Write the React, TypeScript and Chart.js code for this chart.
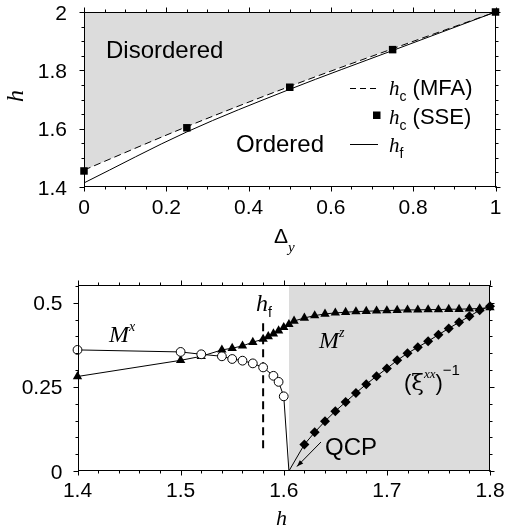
import React, { useEffect, useRef } from "react";
import { Chart, registerables } from "chart.js";
Chart.register(...registerables);

const W = 506;
const H = 529;

// ---------- Top panel data ----------
const DELTA_Y = [0, 0.25, 0.5, 0.75, 1];
const HC_MFA = [1.458, 1.607, 1.745, 1.874, 2.0];
const HC_SSE = [1.455, 1.603, 1.742, 1.871, 2.0];
const HF_LINE = [1.414, 1.589, 1.735, 1.868, 2.0];
const TOP_X_TICKS = [0, 0.2, 0.4, 0.6, 0.8, 1];
const TOP_X_TICK_LABELS = ["0", "0.2", "0.4", "0.6", "0.8", "1"];
const TOP_Y_TICKS = [1.4, 1.6, 1.8, 2];
const TOP_Y_TICK_LABELS = ["1.4", "1.6", "1.8", "2"];

// ---------- Bottom panel data ----------
const MX_H = [1.4, 1.5, 1.52, 1.54, 1.55, 1.56, 1.57, 1.58, 1.59, 1.595, 1.6, 1.605];
const MX = [0.36, 0.354, 0.347, 0.341, 0.333, 0.328, 0.32, 0.308, 0.283, 0.265, 0.222, 0];
const MZ_H = [1.4, 1.5, 1.52, 1.54, 1.55, 1.56, 1.57, 1.58, 1.585, 1.59, 1.595, 1.6, 1.605, 1.61,
  1.62, 1.63, 1.64, 1.65, 1.66, 1.67, 1.68, 1.69, 1.7, 1.71, 1.72, 1.73, 1.74, 1.75, 1.76, 1.77, 1.78, 1.79, 1.8];
const MZ = [0.281, 0.329, 0.341, 0.36, 0.365, 0.372, 0.383, 0.392, 0.4, 0.408, 0.417, 0.427, 0.436, 0.446,
  0.455, 0.462, 0.467, 0.47, 0.472, 0.474, 0.475, 0.476, 0.477, 0.478, 0.479, 0.479, 0.48, 0.48, 0.481, 0.481, 0.482, 0.483, 0.486];
const XI_H = [1.605, 1.62, 1.63, 1.64, 1.65, 1.66, 1.67, 1.68, 1.69, 1.7, 1.71, 1.72, 1.73, 1.74, 1.75, 1.76, 1.77, 1.78, 1.79, 1.8];
const XI_INV = [0, 0.079, 0.115, 0.148, 0.178, 0.205, 0.232, 0.258, 0.282, 0.305, 0.329, 0.35, 0.368, 0.386, 0.405, 0.424, 0.442, 0.46, 0.478, 0.49];
const QCP_H = 1.605;
const HF_H = 1.58;
const HF_MARK_Y = [0.068, 0.45];
const BOT_X_TICKS = [1.4, 1.5, 1.6, 1.7, 1.8];
const BOT_X_TICK_LABELS = ["1.4", "1.5", "1.6", "1.7", "1.8"];
const BOT_Y_TICKS = [0, 0.25, 0.5];
const BOT_Y_TICK_LABELS = ["0", "0.25", "0.5"];
const BOT_Y_MAX = 0.553;

const SANS = '"Liberation Sans", Arial, sans-serif';
const SERIF = '"Liberation Serif", "Times New Roman", serif';

type Part = [string, string, number];
function rich(ctx: CanvasRenderingContext2D, x: number, y: number, parts: Part[]) {
  let cx = x;
  ctx.textAlign = "left";
  ctx.textBaseline = "alphabetic";
  for (const [t, f, dy] of parts) {
    ctx.font = f;
    ctx.fillText(t, cx, y + dy);
    cx += ctx.measureText(t).width;
  }
}

function minors(min: number, max: number, step: number) {
  const out: number[] = [];
  const n = Math.round((max - min) / step);
  for (let i = 0; i <= n; i++) out.push(min + i * step);
  return out;
}

function frameAndTicks(chart: any, xMaj: number[], xMin: number[], yMaj: number[], yMin: number[]) {
  const { ctx, chartArea: a, scales } = chart;
  const xs = scales.x, ys = scales.y;
  ctx.save();
  ctx.strokeStyle = "#000";
  ctx.lineWidth = 1;
  const L = Math.round(a.left) + 0.5, R = Math.round(a.right) - 0.5;
  const T = Math.round(a.top) + 0.5, B = Math.round(a.bottom) - 0.5;
  ctx.strokeRect(L, T, R - L, B - T);
  ctx.beginPath();
  const xt = (v: number, len: number) => {
    const p = Math.round(xs.getPixelForValue(v)) + 0.5;
    ctx.moveTo(p, B); ctx.lineTo(p, B + len);
    ctx.moveTo(p, T); ctx.lineTo(p, T - len);
  };
  const yt = (v: number, len: number) => {
    const p = Math.round(ys.getPixelForValue(v)) + 0.5;
    ctx.moveTo(L, p); ctx.lineTo(L - len, p);
    ctx.moveTo(R, p); ctx.lineTo(R + len, p);
  };
  xMin.forEach((v) => xt(v, 3));
  xMaj.forEach((v) => xt(v, 5));
  yMin.forEach((v) => yt(v, 3));
  yMaj.forEach((v) => yt(v, 5));
  ctx.stroke();
  ctx.restore();
}

function tickLabels(chart: any, xv: number[], xl: string[], yv: number[], yl: string[], xBase: number, yRight: number) {
  const { ctx, chartArea: a, scales } = chart;
  ctx.save();
  ctx.fillStyle = "#000";
  ctx.font = `21px ${SANS}`;
  ctx.textBaseline = "alphabetic";
  ctx.textAlign = "center";
  xv.forEach((v, i) => ctx.fillText(xl[i], scales.x.getPixelForValue(v), a.bottom + xBase));
  ctx.textAlign = "right";
  yv.forEach((v, i) => ctx.fillText(yl[i], a.left - yRight, scales.y.getPixelForValue(v) + 7.5));
  ctx.restore();
}

const topPlugin = {
  id: "topDeco",
  afterDraw(chart: any) {
    const ctx: CanvasRenderingContext2D = chart.ctx;
    frameAndTicks(chart, TOP_X_TICKS, minors(0, 1, 0.05), TOP_Y_TICKS, minors(1.4, 2, 0.05));
    tickLabels(chart, TOP_X_TICKS, TOP_X_TICK_LABELS, TOP_Y_TICKS, TOP_Y_TICK_LABELS, 26.5, 17);
    ctx.save();
    ctx.fillStyle = "#000";
    // y title
    ctx.save();
    ctx.translate(17, 96);
    ctx.rotate(-Math.PI / 2);
    ctx.font = `italic 24px ${SERIF}`;
    ctx.textAlign = "center";
    ctx.textBaseline = "middle";
    ctx.fillText("h", 0, 0);
    ctx.restore();
    // x title
    rich(ctx, 274, 243, [["Δ", `21px ${SANS}`, 0], ["y", `italic 15px ${SERIF}`, 9]]);
    // region labels
    ctx.font = `24px ${SANS}`;
    ctx.fillText("Disordered", 106, 58);
    ctx.fillText("Ordered", 236, 152);
    // legend
    ctx.strokeStyle = "#000";
    ctx.lineWidth = 1;
    ctx.setLineDash([6, 4]);
    ctx.beginPath(); ctx.moveTo(350, 88.5); ctx.lineTo(378, 88.5); ctx.stroke();
    ctx.setLineDash([]);
    ctx.beginPath(); ctx.moveTo(350, 144.5); ctx.lineTo(378, 144.5); ctx.stroke();
    ctx.fillRect(373, 111.5, 7.5, 7.5);
    rich(ctx, 389, 95, [["h", `italic 21px ${SERIF}`, 0], ["c", `14px ${SANS}`, 6], [" (MFA)", `22px ${SANS}`, 0]]);
    rich(ctx, 389, 124, [["h", `italic 21px ${SERIF}`, 0], ["c", `14px ${SANS}`, 6], [" (SSE)", `22px ${SANS}`, 0]]);
    rich(ctx, 389, 152, [["h", `italic 21px ${SERIF}`, 0], ["f", `14px ${SANS}`, 6]]);
    ctx.restore();
  },
};

const botPlugin = {
  id: "botDeco",
  afterDraw(chart: any) {
    const ctx: CanvasRenderingContext2D = chart.ctx;
    frameAndTicks(chart, BOT_X_TICKS, minors(1.4, 1.8, 0.02), BOT_Y_TICKS, minors(0, 0.55, 0.05));
    tickLabels(chart, BOT_X_TICKS, BOT_X_TICK_LABELS, BOT_Y_TICKS, BOT_Y_TICK_LABELS, 25.5, 15);
    ctx.save();
    ctx.fillStyle = "#000";
    rich(ctx, 276, 525, [["h", `italic 22px ${SERIF}`, 0]]);
    rich(ctx, 109, 341.5, [["M", `italic 24px ${SERIF}`, 0], ["x", `italic 14px ${SERIF}`, -11]]);
    rich(ctx, 319, 348, [["M", `italic 24px ${SERIF}`, 0], ["z", `italic 14px ${SERIF}`, -11]]);
    rich(ctx, 404, 390, [
      ["(", `22px ${SANS}`, 0],
      ["ξ", `23px "DejaVu Serif", serif`, 0],
      ["xx", `italic 13px ${SERIF}`, -12],
      [")", `22px ${SANS}`, 0],
      ["−1", `15px ${SANS}`, -15],
    ]);
    rich(ctx, 325, 455, [["QCP", `24px ${SANS}`, 0]]);
    rich(ctx, 256, 311, [["h", `italic 24px ${SERIF}`, 0], ["f", `14px ${SANS}`, 6]]);
    // arrow to QCP
    const xs = chart.scales.x, ys = chart.scales.y;
    const x1 = 321, y1 = 442;
    const x2 = xs.getPixelForValue(QCP_H) + 8, y2 = ys.getPixelForValue(0) - 4.5;
    ctx.strokeStyle = "#000";
    ctx.lineWidth = 1;
    ctx.beginPath(); ctx.moveTo(x1, y1); ctx.lineTo(x2, y2); ctx.stroke();
    const ang = Math.atan2(y2 - y1, x2 - x1);
    const hl = 7, hw = 0.35;
    ctx.beginPath();
    ctx.moveTo(x2, y2);
    ctx.lineTo(x2 - hl * Math.cos(ang - hw), y2 - hl * Math.sin(ang - hw));
    ctx.lineTo(x2 - hl * Math.cos(ang + hw), y2 - hl * Math.sin(ang + hw));
    ctx.closePath();
    ctx.fill();
    ctx.restore();
  },
};

const pts = (xs: number[], ys: number[]) => xs.map((x, i) => ({ x, y: ys[i] }));

export default function App() {
  const topRef = useRef<HTMLCanvasElement>(null);
  const botRef = useRef<HTMLCanvasElement>(null);

  useEffect(() => {
    const common: any = {
      responsive: false,
      animation: false,
      events: [],
      plugins: { legend: { display: false }, tooltip: { enabled: false } },
    };
    const top = new Chart(topRef.current!, {
      type: "line",
      data: {
        datasets: [
          {
            data: pts(DELTA_Y, HC_SSE),
            showLine: false,
            pointStyle: "rect",
            pointRadius: 5.3,
            backgroundColor: "#000",
            borderColor: "#000",
            borderWidth: 0,
            clip: false,
          } as any,
          {
            data: pts(DELTA_Y, HF_LINE),
            borderColor: "#000",
            borderWidth: 1,
            pointRadius: 0,
            fill: false,
            cubicInterpolationMode: "monotone",
          },
          {
            data: pts(DELTA_Y, HC_MFA),
            borderColor: "#000",
            borderWidth: 1,
            borderDash: [7, 4],
            pointRadius: 0,
            fill: "end",
            backgroundColor: "#dcdcdc",
            cubicInterpolationMode: "monotone",
          },
        ],
      },
      options: {
        ...common,
        layout: { padding: { left: 84, right: 10.5, top: 12, bottom: H - 187 } },
        scales: {
          x: { type: "linear", min: 0, max: 1, display: false },
          y: { type: "linear", min: 1.4, max: 2, display: false },
        },
      },
      plugins: [topPlugin],
    });

    const bot = new Chart(botRef.current!, {
      type: "line",
      data: {
        datasets: [
          {
            data: pts(MX_H, MX),
            borderColor: "#000",
            borderWidth: 1,
            pointStyle: "circle",
            pointRadius: MX.map((_, i) => (i === MX.length - 1 ? 0 : 4.4)),
            backgroundColor: "#fff",
            pointBorderColor: "#000",
            pointBorderWidth: 1,
            clip: false,
          } as any,
          {
            data: pts(MZ_H, MZ),
            borderColor: "#000",
            borderWidth: 1,
            pointStyle: "triangle",
            pointRadius: 5.4,
            backgroundColor: "#000",
            pointBorderWidth: 0,
            clip: false,
          } as any,
          {
            data: pts(XI_H, XI_INV),
            borderColor: "#000",
            borderWidth: 1,
            pointStyle: "rectRot",
            pointRadius: XI_INV.map((_, i) => (i === 0 ? 0 : 5)),
            backgroundColor: "#000",
            pointBorderWidth: 0,
            clip: false,
          } as any,
          {
            data: [{ x: HF_H, y: HF_MARK_Y[0] }, { x: HF_H, y: HF_MARK_Y[1] }],
            borderColor: "#000",
            borderWidth: 2,
            borderDash: [8, 5],
            pointRadius: 0,
          },
          {
            data: [{ x: QCP_H, y: BOT_Y_MAX }, { x: 1.8, y: BOT_Y_MAX }],
            borderWidth: 0,
            pointRadius: 0,
            fill: "origin",
            backgroundColor: "#dcdcdc",
          },
        ],
      },
      options: {
        ...common,
        layout: { padding: { left: 77.5, right: 16, top: 285, bottom: H - 471 } },
        scales: {
          x: { type: "linear", min: 1.4, max: 1.8, display: false },
          y: { type: "linear", min: 0, max: BOT_Y_MAX, display: false },
        },
      },
      plugins: [botPlugin],
    });

    return () => {
      top.destroy();
      bot.destroy();
    };
  }, []);

  return (
    <div style={{ position: "absolute", left: 0, top: 0, width: W, height: H, background: "#fff" }}>
      <canvas ref={topRef} width={W} height={H} style={{ position: "absolute", left: 0, top: 0 }} />
      <canvas ref={botRef} width={W} height={H} style={{ position: "absolute", left: 0, top: 0 }} />
    </div>
  );
}
